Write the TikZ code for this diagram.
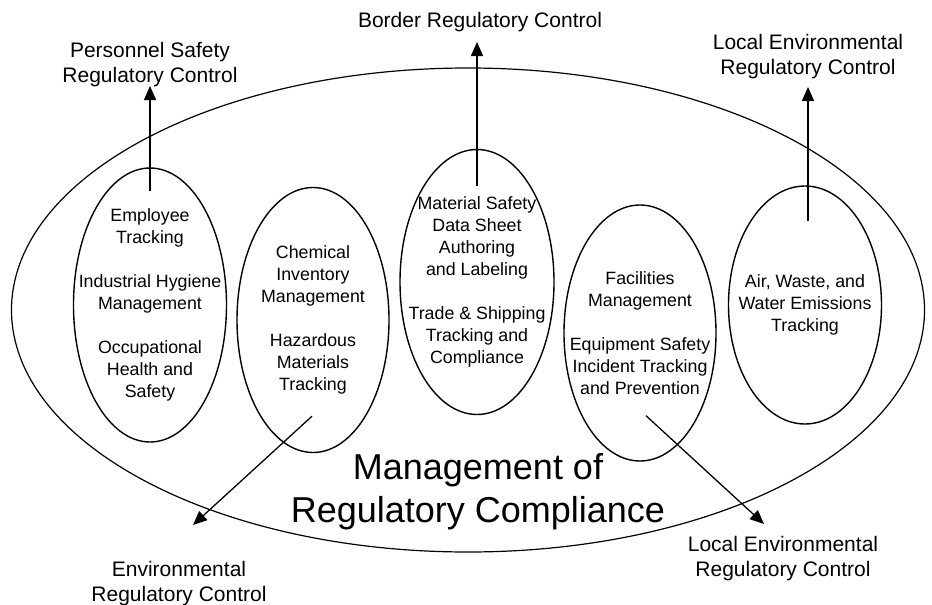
\documentclass[tikz,border=0pt]{standalone}
\usepackage{fontspec}
\setmainfont{Liberation Sans}
\usetikzlibrary{arrows.meta,shapes.geometric,positioning}
\tikzset{
  unit/.style={draw, ellipse, line width=1.4pt, inner sep=0pt},
  unittext/.style={align=center, font=\fontsize{17.8}{22}\selectfont},
  ctrl/.style={align=center, inner sep=1pt, font=\fontsize{21}{25}\selectfont},
}

\begin{document}
\begin{tikzpicture}[->,>={Triangle[length=14pt,width=12pt]},x=1pt,y=-1pt,
   line width=1.3pt]
  \useasboundingbox (0,0) rectangle (932,605);
  % the whole field
  \node[unit, line width=1.2pt, minimum width=913pt, minimum height=484pt] (mrc) at (468,310) {};
  \node[align=center, font=\fontsize{36}{43}\selectfont] (mrctext) at (478,492) {Management of\\Regulatory Compliance};
  % the five units
  \node[unit, minimum width=153pt, minimum height=274pt] (emp) at (150,305) {};
  \node[unit, minimum width=152pt, minimum height=265pt] (chem) at (313,320) {};
  \node[unit, minimum width=154pt, minimum height=265pt] (msds) at (477,282) {};
  \node[unit, minimum width=152pt, minimum height=256pt] (fac) at (640,333) {};
  \node[unit, minimum width=153pt, minimum height=238pt] (air) at (805,305) {};
  \node[unittext] (emptext) at (emp) {Employee\\Tracking\\[22pt]Industrial Hygiene\\Management\\[22pt]Occupational\\Health and\\Safety};
  \node[unittext] (chemtext) at (chem) {Chemical\\Inventory\\Management\\[22pt]Hazardous\\Materials\\Tracking};
  \node[unittext] (msdstext) at (msds) {Material Safety\\Data Sheet\\Authoring\\and Labeling\\[22pt]Trade \& Shipping\\Tracking and\\Compliance};
  \node[unittext] (factext) at (fac) {Facilities\\Management\\[22pt]Equipment Safety\\Incident Tracking\\and Prevention};
  \node[unittext] (airtext) at (air) {Air, Waste, and\\Water Emissions\\Tracking};
  % controls
  \node[ctrl] (pers) at (150,65) {Personnel Safety\\Regulatory Control};
  \node[ctrl] (bord) at (480,22) {Border Regulatory Control};
  \node[ctrl] (loctop) at (808,57) {Local Environmental\\Regulatory Control};
  \node[ctrl] (env) at (179,584) {Environmental\\Regulatory Control};
  \node[ctrl] (locbot) at (783,559) {Local Environmental\\Regulatory Control};
  \coordinate (perstip) at (150,86);
  \coordinate (bordtip) at (477,42);
  \coordinate (loctoptip) at (808,87);
  \coordinate (envtip) at (193,525);
  \coordinate (locbottip) at (764,524);
  \draw ([yshift=-24pt]emp.north) -- (perstip);
  \draw ([yshift=-37pt]msds.north) -- (bordtip);
  \draw ([xshift=3pt,yshift=-36pt]air.north) -- (loctoptip);
  \draw ([xshift=-1pt,yshift=37pt]chem.south) -- (envtip);
  \draw ([xshift=6pt,yshift=46pt]fac.south) -- (locbottip);
\end{tikzpicture}
\end{document}
